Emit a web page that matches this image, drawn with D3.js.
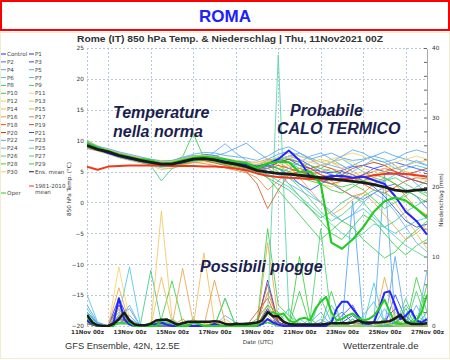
<!DOCTYPE html>
<html><head><meta charset="utf-8">
<script src="https://cdn.jsdelivr.net/npm/d3@7"></script>
<style>body{margin:0;background:#fff}svg{display:block}</style>
</head><body>
<svg id="c" width="450" height="360"></svg>
<script>
// ---------- DATA ----------
const title = "ROMA";
const subtitle = "Rome  (IT)  850 hPa Temp. & Niederschlag | Thu, 11Nov2021 00Z";
const xTickDays = [0,2,4,6,8,10,12,14,16];
const xTickLabels = ["11Nov 00z","13Nov 00z","15Nov 00z","17Nov 00z","19Nov 00z","21Nov 00z","23Nov 00z","25Nov 00z","27Nov 00z"];
const tempTicks = [-20,-15,-10,-5,0,5,10,15,20,25];
const precipTicks = [0,10,20,30,40];
const memberNames = ["P1","P2","P3","P4","P5","P6","P7","P8","P9","P10","P11","P12","P13","P14","P15","P16","P17","P18","P19","P20","P21","P22","P23","P24","P25","P26","P27","P28","P29","P30"];

// 850 hPa temperature, every 12 h from 11Nov 00z (33 values)
const tempMean = [9.2,8.6,8.2,7.6,7.2,6.8,6.5,6.2,6.2,6.6,7.0,7.1,6.9,6.5,6.2,5.8,5.2,4.9,4.7,4.6,4.4,4.2,4.0,3.8,3.6,3.4,3.2,2.9,2.5,2.0,1.8,2.0,2.1];
const tempClim = [5.8,5.3,5.8,5.9,6.0,6.0,6.0,6.0,5.9,5.9,5.9,5.8,5.8,5.7,5.5,5.2,4.7,4.3,4.1,4.0,3.9,3.8,3.7,3.7,3.8,3.9,4.1,4.4,4.6,4.7,4.6,4.4,4.2];
const tempControl = [9.3,8.7,8.0,7.5,7.1,6.9,6.6,6.2,6.3,6.5,7.0,7.3,7.0,6.6,6.4,6.2,5.8,6.2,7.0,8.4,6.8,4.2,4.0,4.3,4.3,4.0,4.2,3.6,3.0,1.0,-1.5,-3.0,-5.2];
const tempOper = [9.6,8.8,8.3,7.8,7.4,7.0,6.8,6.3,6.4,6.8,7.2,7.4,7.2,7.0,6.6,6.4,5.6,6.3,6.6,6.5,4.9,5.0,3.0,-6.5,-7.5,-6.0,-4.0,-1.5,0.2,0.8,0.3,-1.0,-2.5];
const tempMembers = [
 [9.5,8.8,8.0,7.4,7.0,6.9,6.4,6.0,6.5,6.9,7.4,7.5,7.0,6.8,6.4,6.0,5.5,5.8,6.5,7.0,6.0,5.5,5.0,4.8,5.2,5.8,6.0,5.5,5.0,4.6,4.0,3.5,3.0],
 [8.9,8.5,8.3,7.8,7.3,6.6,6.3,6.1,6.0,6.4,6.8,7.3,7.2,6.4,6.0,5.6,5.0,4.5,4.0,4.5,5.0,4.2,3.5,3.0,2.0,1.0,0.5,1.5,2.5,3.0,2.0,1.0,-1.0],
 [9.8,9.0,8.4,7.7,7.1,6.9,6.6,6.4,6.3,6.5,7.2,7.8,7.6,7.0,6.6,6.3,6.0,6.5,7.0,7.5,7.0,6.0,5.0,4.5,4.0,3.8,4.5,5.5,6.0,6.5,6.0,5.5,5.0],
 [9.0,8.7,8.5,8.0,7.5,7.0,6.2,5.8,6.5,7.2,7.6,7.3,7.5,8.0,8.8,9.6,8.2,7.0,7.8,8.3,7.5,7.0,7.5,8.0,7.2,6.8,7.0,7.5,8.2,7.5,7.0,6.5,6.0],
 [9.3,8.4,7.9,7.5,7.4,7.0,6.8,6.5,5.9,6.2,6.9,7.0,8.2,9.5,8.0,6.8,5.8,6.2,6.8,7.5,8.0,7.2,6.5,6.0,5.5,6.0,6.8,7.5,7.0,6.0,4.5,3.0,1.5],
 [9.1,8.6,8.1,7.3,6.9,6.5,6.1,5.6,5.5,6.0,6.6,6.8,6.5,6.1,5.9,5.7,5.5,5.0,4.5,4.0,3.0,1.5,0.0,-2.0,-3.0,-2.0,-1.0,-2.5,-4.0,-5.0,-4.0,-3.0,-2.5],
 [9.6,8.9,8.3,7.9,7.6,7.2,6.7,6.3,6.4,6.8,7.3,7.6,7.3,6.7,6.4,6.1,6.0,6.8,7.2,6.5,5.5,5.0,5.5,6.5,7.0,6.0,5.0,4.0,3.5,4.5,5.5,6.0,5.5],
 [9.4,8.5,8.0,7.6,7.2,6.6,6.0,3.5,5.5,6.2,6.9,7.0,6.7,6.3,6.0,5.6,5.0,4.0,3.0,2.0,0.5,-1.0,-2.5,-1.5,0.0,1.0,0.0,-2.0,-4.0,-3.0,-1.5,-0.5,0.5],
 [10.1,9.0,8.4,7.8,7.3,6.9,6.7,6.5,6.6,7.4,11.2,7.2,6.8,6.6,6.3,5.9,5.5,6.0,5.0,3.0,1.0,-1.0,-3.0,-5.0,-6.0,-4.0,-2.0,-3.0,-5.0,-7.0,-8.5,-7.0,-6.0],
 [9.7,8.8,8.2,7.5,7.0,6.7,6.5,6.3,6.1,6.3,6.8,7.0,6.9,6.6,6.3,6.0,6.0,6.5,7.0,6.5,6.0,5.0,4.0,3.0,2.5,3.0,2.0,0.5,-1.0,0.0,1.5,2.0,1.0],
 [9.0,8.9,8.6,7.9,7.5,7.3,7.0,6.8,6.7,7.0,7.5,7.7,7.4,7.0,6.7,6.3,6.0,6.5,7.5,8.0,7.5,7.0,6.5,7.0,7.5,8.0,7.5,6.5,6.0,6.5,7.0,7.5,7.0],
 [8.8,8.3,7.8,7.2,6.8,6.4,6.0,5.3,5.6,6.0,6.5,6.8,6.5,6.2,5.9,5.7,5.5,5.0,5.5,6.0,5.0,4.0,3.0,2.5,3.5,4.5,5.0,4.0,2.5,1.0,-1.0,-3.0,-4.5],
 [9.2,8.7,8.5,8.1,7.6,7.2,6.9,6.6,6.8,7.1,7.3,7.4,7.1,6.8,6.5,6.3,6.2,6.8,6.0,5.0,4.5,5.0,6.0,6.5,6.0,5.0,4.0,3.0,2.0,0.0,-2.5,-5.0,-7.5],
 [9.4,9.0,8.4,7.4,6.9,6.6,6.4,6.0,5.8,6.1,6.4,6.6,6.4,6.0,5.7,5.4,5.0,4.5,4.0,4.5,5.5,6.5,7.0,6.5,5.5,4.5,4.0,4.5,5.0,5.5,6.0,6.5,6.8],
 [9.9,9.2,8.3,7.7,7.4,7.1,6.8,6.5,6.4,6.7,7.1,7.2,7.0,6.7,6.4,6.1,5.8,6.5,7.0,6.0,4.0,2.0,0.0,-2.0,-1.0,0.5,1.5,0.0,-2.0,-4.0,-6.0,-5.0,-3.5],
 [9.1,8.6,8.0,7.5,7.3,6.9,6.6,6.2,6.3,6.8,7.4,7.6,7.3,7.0,6.8,6.6,6.5,7.0,6.5,5.5,5.0,4.5,5.0,5.5,5.0,4.0,3.5,4.0,5.0,5.5,5.0,4.5,4.0],
 [8.7,8.4,8.1,7.6,7.0,6.5,6.1,5.9,6.0,6.2,6.5,6.3,6.0,5.6,5.2,4.8,4.0,2.0,3.5,5.0,5.5,5.0,4.5,3.5,2.0,1.0,1.5,3.0,4.0,3.0,1.0,-1.0,-2.0],
 [9.3,8.8,8.2,7.7,7.2,6.8,6.5,6.1,6.2,6.6,7.0,6.8,6.4,6.0,5.5,5.0,3.0,-1.0,2.0,4.5,5.0,4.5,3.5,3.0,3.5,4.0,3.0,2.0,1.5,2.5,3.5,4.0,3.8],
 [9.0,8.5,8.0,7.5,7.1,6.7,6.4,6.2,6.3,6.7,7.1,7.3,7.0,6.6,6.2,5.9,5.5,5.5,6.0,5.5,5.0,5.5,6.0,5.5,4.5,4.0,4.5,5.0,5.5,5.0,4.0,3.5,3.0],
 [9.5,8.9,8.3,7.6,7.0,6.6,6.3,6.0,6.1,6.5,6.9,7.0,6.8,6.4,6.0,5.6,5.0,5.5,6.5,7.0,6.5,5.5,4.5,4.0,4.5,5.5,6.0,6.5,6.0,5.0,4.5,5.0,5.5],
 [9.2,8.6,8.1,7.5,7.1,6.8,6.5,6.3,6.4,6.8,7.2,7.4,7.2,6.9,6.5,6.1,5.5,6.0,5.5,4.5,3.0,2.0,3.0,4.0,5.0,4.5,3.5,2.5,1.0,-1.0,-3.0,-4.0,-3.5],
 [9.6,9.1,8.7,8.2,7.8,7.4,7.0,6.7,6.8,7.3,7.8,8.1,8.0,7.6,7.4,7.2,6.8,7.5,8.5,9.0,8.0,7.0,6.0,6.5,7.5,8.5,8.0,7.0,6.5,7.0,8.0,8.5,8.0],
 [8.9,8.4,7.9,7.3,6.9,6.5,6.2,5.9,6.0,6.5,7.0,7.3,7.1,6.7,6.3,6.2,6.0,5.0,4.5,5.5,6.5,7.5,8.0,7.0,6.0,5.0,6.0,7.0,6.5,5.5,6.0,6.8,6.0],
 [9.3,8.7,8.2,7.6,7.2,6.9,6.6,6.4,6.5,7.0,7.4,7.6,7.2,6.7,6.2,5.6,5.0,5.5,4.5,3.0,2.0,1.0,0.0,-1.5,-3.0,-2.0,0.0,1.5,0.5,-1.5,-4.0,-6.5,-8.0],
 [9.8,9.0,8.3,7.7,7.2,6.8,6.4,6.0,6.1,6.6,7.0,7.1,6.9,6.5,6.1,5.8,5.5,4.5,3.5,2.5,1.0,-0.5,-2.0,-3.5,-5.0,-6.0,-5.0,-3.5,-4.0,-5.5,-7.0,-8.0,-9.0],
 [9.4,8.7,8.3,7.8,7.3,6.9,6.6,6.3,6.4,6.9,7.3,7.4,7.1,6.8,6.5,6.3,6.0,6.5,5.5,4.0,2.5,0.5,-1.5,-3.0,-2.0,-0.5,1.0,2.0,1.5,0.5,1.0,2.5,3.5],
 [9.0,8.5,8.1,7.6,7.2,6.9,6.7,6.5,6.6,7.0,7.5,7.7,7.4,7.0,6.6,6.2,5.8,6.2,6.8,7.2,6.5,6.0,5.5,5.0,4.5,4.0,3.5,3.0,3.5,4.0,3.0,2.0,1.5],
 [9.6,8.9,8.4,7.8,7.3,6.8,6.3,5.8,5.9,6.3,6.7,6.9,6.6,6.2,5.8,5.4,5.0,4.0,2.0,0.0,-2.0,-4.0,-6.0,-4.5,-3.0,-4.0,-6.0,-7.5,-9.0,-8.0,-6.0,-4.5,-3.0],
 [9.1,8.6,8.2,7.7,7.3,6.9,6.6,6.4,6.5,6.9,7.3,7.5,7.3,6.9,6.5,6.0,5.5,6.0,5.5,5.0,4.0,3.5,3.0,2.0,1.5,2.5,3.5,4.5,4.0,3.0,2.0,1.0,0.0],
 [9.2,8.8,8.4,7.9,7.5,7.1,6.8,6.5,6.6,7.0,7.4,7.6,7.4,7.1,6.8,6.4,6.0,6.5,7.0,7.5,7.0,6.5,6.0,6.5,7.0,6.5,5.5,5.0,5.5,6.0,5.0,4.0,3.5]
];

// Precipitation (mm), mean / control / oper every 6 h (65 values)
const precipMean = [1.6,0.5,0.1,0.0,0.0,0.3,1.0,1.9,0.8,0.2,0.1,0.1,0.3,0.8,0.9,0.9,0.6,0.2,0.4,0.6,0.6,0.6,0.6,0.6,0.7,0.6,0.3,0.2,0.3,0.3,0.3,0.4,0.5,0.8,2.0,1.4,1.4,0.6,0.3,0.2,0.2,0.2,0.2,0.2,0.2,0.3,0.4,0.4,0.4,0.4,0.5,0.8,0.5,0.5,0.5,0.5,0.6,0.7,1.1,1.6,0.6,0.3,0.3,0.3,0.4];
const precipControl = [0.8,0.2,0,0,0,0.5,4.0,1.0,0.2,0,0,0,0,0.3,0.5,0.2,0,0,0,0,0,0,0,0,0.3,0,0,0,0,0,0,0,0,0.3,1.0,0.5,0.2,0,0,0,0,0,0,0,0,0,0.5,2.5,3.5,3.5,2.5,1.5,0.5,0.3,0.5,2.5,4.8,5.0,3.0,1.0,1.5,2.3,0.8,0.5,1.0];
const precipOper = [1.5,0.3,0,0,0,0,1.0,1.8,0.5,0,0,0,0,0,0.8,1.0,0.5,0,0,0,0.5,0.3,0,0,0,0,0,0,0,0,0,0,0,1.0,1.8,2.0,1.6,1.8,0.8,0.5,1.0,1.2,0.8,2.5,3.5,4.2,2.0,0.8,1.0,1.5,1.8,1.2,0.8,1.0,1.5,2.5,3.8,2.0,0.5,0.3,0.4,0.5,0.8,2.0,4.5];
// Members every 12 h (33 values)
const precipMembers = [
 [1.0,0,0,4.0,0.5,0,0,0.2,0,0,0, 0,0,0,0,0,0.3,6.6,0.5,0,0,0, 0,0,0.5,1.5,0.3,0,0.8,2.5,0.5,0,0.3],
 [0.5,0,0,0.8,0.3,0,0,0.5,0.2,0,0, 0,0,0,0.2,0,0,0.5,0.3,0,0,0, 0,0.8,2.0,0.5,0,0,1.0,0.4,0,0.6,0],
 [2.0,0.3,0,1.2,0.5,0,0,0,0.3,0,0, 0,0.4,0,0,0,0,1.0,0.5,0,0,0, 0.5,0,0,0.5,0.3,0,0,4.5,1.0,0,0.5],
 [3.0,0.5,0,1.5,2.5,0,0,0.8,0,0,0.3, 0,0,0,0,0.5,0,1.5,0,0,0,0, 0,0,0,18.0,0.5,0,0,1.0,0,0,2.0],
 [1.5,0,0,2.0,1.0,0,0,0.3,0,0.2,0, 0,0,1.5,0.5,0,0,1.0,0.5,0,0,0, 0,0,0,0,0,0.5,22.0,1.0,0,0.5,0],
 [4.5,0.5,0,1.5,8.5,0.3,0,0.5,0,0,0.5, 0,0,0,0.3,0,0,2.0,0.5,0,0,0, 0,0,0,1.0,0,6.2,0.5,0,0,0.5,1.0],
 [2.5,0.3,0,2.5,1.0,0,0,0.5,0.5,0,0, 0,0,0,0,0,0.2,0.5,0,0,0,0, 1.0,0,0,0,1.5,3.5,0.5,0,1.0,0,0.5],
 [1.5,0,0,0.5,0.5,0,8.0,0.5,0,0,0, 0,0,0,0,0,0,0.5,0.5,2.5,0,0, 4.0,0.5,0,0,1.0,0,0.3,0,3.0,1.0,0],
 [1.0,0,0,0.3,0.3,0,0.5,1.0,6.5,0.5,0, 0.3,0,4.0,0,0,0.5,14.0,3.0,1.5,0,0, 0,0,0,1.0,0,0,0.5,0,0,7.0,2.0],
 [0.8,0,0,0.5,0.3,0,0,0.3,0.5,0,1.0, 0,0,0,0.5,0,0,1.0,0,0,10.0,1.0, 0,0,0,0,0,0,0,0.5,0,1.5,0.5],
 [1.0,0,0,8.5,1.0,0,0,0.5,0,0,0, 0,0,0,0,0,0,1.5,0,0,0,0, 0,0,0,0,0,0,1.0,0,0,0,0],
 [0.5,0,0,1.0,0.5,0,0,16.5,1.0,0,0, 0.5,0,0,0,0,0,2.0,0.5,0,0,0, 0,0,0,0,0,0,0,0.5,0,0,0],
 [0.3,0,0,0.5,0.3,0,0,7.0,0.5,0,0, 10.5,0.5,0,0,0,0,0.8,0,0,0,0, 0,0,0,0.5,0,0,0,2.0,0.5,0,0],
 [0.5,0,0,2.0,0.3,0,0,1.0,0.3,0,0, 0,0,1.0,0,0,0,0.5,0,0,0,0, 0,0,0,0,0,0,0,0,1.5,0,0],
 [1.0,0,0,5.5,0.5,0,0,0.5,0,8.3,0.5, 0,0.5,0,0,0,0,12.0,1.0,0,0,0, 0,0,0,0,0,0,7.0,1.0,0,0,0.3],
 [0.8,0,0,3.0,0.5,0,0,0.3,0,0,0, 0,6.6,0.5,0,0,0,3.0,0.5,0,0,0, 0,0,0,0,1.0,0,0,0,0,0,0],
 [0.5,0,0,1.5,0.5,0,0,0.5,0,1.0,0, 0,0.5,0,0,0,0.3,4.8,1.0,0,0,0, 0,0,0,0,0,0,0.5,0,0,0,0],
 [0.5,0,0,2.5,0.3,0,0,0,0,0,0, 0,0,0,0,0,2.0,4.0,0.5,0,0,0, 0,0,0,0,0,0,0,0,0,0,0],
 [0.3,0,0,0.5,0.3,0,0,0,0,0.5,0, 0,0,0,0,0,0.5,6.0,0.5,0,0,0, 0,0,0,0,0,0,0,0,0,0,0],
 [0.5,0,0,1.0,0.5,0,0,0.3,0,0,0, 0,0,0,0.5,0,0,2.5,0,0,0,0, 0,0,0,0,0,0,0,0,0,0,0],
 [0.8,0,0,3.0,0.5,0,0,0,0,0,0, 0,0,0,0,0,0,2.5,0.5,0,0,0, 0,0,1.5,3.0,0,0,0,0.5,1.5,0,0],
 [2.0,0.5,0,1.0,1.5,0,0,0.3,0,0,0, 0,0,0,0,0,0,1.0,0,0,0,0.5, 2.0,0,0,0,0,0,0,10.0,0.5,0,1.0],
 [1.5,0,0,0.8,3.0,0,0,0.5,0,0,0, 0,0,0,0,0,0,0.5,0,0,1.0,0, 0,0,0,0,0,0,2.5,0,0,3.0,0],
 [1.0,0,0,1.5,1.0,0,0,0.3,0,0,0, 0,0,0,0,0,0,1.0,0,0,0,0, 0,3.0,0.5,0,0,0,0,0,0,0,8.0],
 [2.0,0,0,0.5,0.5,0,0,0.5,1.0,0,0, 0,0,0,0,0,0,2.0,39.0,1.5,0.5,0, 0,0,0,0,0,0,0,0,0,0,0.5],
 [1.0,0,0,0.3,0.5,0,0,0.5,0,0,0, 0,0,4.0,0,0,0,1.0,0,0,0,1.0, 14.0,1.0,0,0,0,0,0,0,4.0,0,0],
 [0.5,0,0,0.3,0.3,0,0,0.3,0,0,0, 0,0,0,0,0.5,0,0.5,0,0,0,0, 0,0,0,0,0,0,1.0,0,0,5.0,0.5],
 [1.5,0,0,0.5,0.5,0,0,0.5,0.3,0,0, 0,0,0,0,0,1.0,3.0,2.0,0,0,0, 0,5.0,0,0,0,0,0,0,0,0,6.0],
 [1.0,0,0,0.5,0.3,0,0,0,0.5,0,0, 0,0.3,0,0,0,0,0.5,0,0,5.0,0, 0,0,0,0,0,0,0,0,2.5,0,0],
 [0.5,0,0,2.5,0.5,0,0,0.5,0,0,0, 0,0,0,0,0,0,1.0,0,0,0,0, 0,0,0,0,0,0,0.5,0,0,0,0]
];

// ---------- STYLE ----------
const memberColors = ["#2b2bee","#3d6bff","#2e4cff","#4fa3f7","#5aaaf5","#4cc7e6","#45c4c8","#3cc88a","#3ccf4a","#3ccf3c",
 "#f2d36b","#f0c860","#efbd55","#efbd55","#e9a94c","#e89c44","#e08a3a","#d8582a","#c8502a","#c0402a",
 "#3050f5","#5aa8f0","#62b0f2","#6ab4f0","#55d4a8","#55d07a","#4ccf6a","#3ccc44","#3ccc3c","#f2d36b"];
const colControl = "#2424ff", colOper = "#22cc22", colMean = "#1a1a1a", colClim = "#ee3a1a", colMeanLegend = "#1c1c5a";
const FONT = "'DejaVu Sans', Verdana, sans-serif";
const FONT2 = "'Liberation Sans', Arial, sans-serif";

// ---------- CHART ----------
const svg = d3.select('#c');
const X0 = 87, X1 = 427, Y0 = 48, Y1 = 326;
const x = d3.scaleLinear().domain([0,16]).range([X0,X1]);
const yT = d3.scaleLinear().domain([-20,25]).range([Y1,Y0]);
const yP = d3.scaleLinear().domain([0,40]).range([Y1,Y0]);
const t12 = d3.range(0, 16.001, 0.5);
const t6 = d3.range(0, 16.001, 0.25);

// title box
svg.append('rect').attr('x',1).attr('y',1).attr('width',448).attr('height',29)
  .attr('fill','#fff').attr('stroke','#ff0000').attr('stroke-width',2);
svg.append('text').attr('x',225).attr('y',22).attr('text-anchor','middle')
  .attr('font-family',FONT2).attr('font-weight','bold').attr('font-size',17).attr('fill','#2020ff').text(title);
// chart frame
svg.append('rect').attr('x',0.5).attr('y',32.5).attr('width',449).attr('height',326)
  .attr('fill','none').attr('stroke','#e6d8a0').attr('stroke-dasharray','1,1');
svg.append('text').attr('x',230).attr('y',42).attr('text-anchor','middle')
  .attr('font-family',FONT2).attr('font-weight','bold').attr('font-size',9.8)
  .attr('textLength',306).attr('lengthAdjust','spacingAndGlyphs').attr('fill','#333').text(subtitle);

// grid
const grid = svg.append('g').attr('stroke','#b9c7dc').attr('stroke-width',1).attr('stroke-dasharray','2,2');
tempTicks.forEach(v => grid.append('line').attr('x1',X0).attr('x2',X1).attr('y1',Math.round(yT(v))+0.5).attr('y2',Math.round(yT(v))+0.5));
[0,1,3,5,7,9,11,13,15].forEach(d => grid.append('line').attr('x1',Math.round(x(d))+0.5).attr('x2',Math.round(x(d))+0.5).attr('y1',Y0).attr('y2',Y1));

// axes
const gL = svg.append('g').attr('transform',`translate(${X0},0)`)
  .call(d3.axisLeft(yT).tickValues(tempTicks).tickSize(0).tickPadding(3));
gL.select('.domain').remove();
gL.selectAll('text').attr('font-family',FONT).attr('font-size',5.8).attr('fill','#333');

const gR = svg.append('g').attr('transform',`translate(${X1},0)`)
  .call(d3.axisRight(yP).tickValues(precipTicks).tickSize(0).tickPadding(5));
gR.select('.domain').attr('stroke','#555').attr('stroke-dasharray','1,1');
gR.selectAll('text').attr('font-family',FONT).attr('font-size',5.8).attr('fill','#333');
const gRm = svg.append('g').attr('transform',`translate(${X1},0)`)
  .call(d3.axisLeft(yP).tickValues(d3.range(0,41,2)).tickSize(3).tickFormat(''));
gRm.select('.domain').remove();
gRm.selectAll('line').attr('stroke','#666');

const gB = svg.append('g').attr('transform',`translate(0,${Y1})`)
  .call(d3.axisBottom(x).tickValues(xTickDays).tickSize(0).tickPadding(4.5).tickFormat((d,i)=>xTickLabels[i]));
gB.select('.domain').remove();
gB.selectAll('text').attr('font-family',FONT).attr('font-weight','bold').attr('font-size',5.6).attr('fill','#333');

// axis titles
svg.append('text').attr('transform','translate(71,189) rotate(-90)').attr('text-anchor','middle')
  .attr('font-family',FONT).attr('font-size',5.6).attr('fill','#333').text('850 hPa Temp. (°C)');
svg.append('text').attr('transform','translate(443,200) rotate(-90)').attr('text-anchor','middle')
  .attr('font-family',FONT).attr('font-size',5.6).attr('fill','#333').text('Niederschlag (mm)');
svg.append('text').attr('x',258).attr('y',344).attr('text-anchor','middle')
  .attr('font-family',FONT).attr('font-size',5.6).attr('fill','#333').text('Date (UTC)');
svg.append('text').attr('x',65).attr('y',349)
  .attr('font-family',FONT2).attr('font-size',9.3).attr('fill','#333').text('GFS Ensemble, 42N, 12.5E');
svg.append('text').attr('x',343).attr('y',349)
  .attr('font-family',FONT2).attr('font-size',9.6).attr('fill','#333').text('Wetterzentrale.de');

// series
svg.append('clipPath').attr('id','clip').append('rect').attr('x',X0).attr('y',Y0-1).attr('width',X1-X0+1).attr('height',Y1-Y0+2);
const plot = svg.append('g').attr('clip-path','url(#clip)');
function draw(times, vals, yScale, color, width, op){
  const pts = vals.map((v,i)=>[times[i], v]).filter(p=>p[0]!==undefined);
  plot.append('path').datum(pts)
    .attr('d', d3.line().x(d=>x(d[0])).y(d=>yScale(d[1])))
    .attr('fill','none').attr('stroke',color).attr('stroke-width',width)
    .attr('stroke-linejoin','round').attr('stroke-opacity',op||1);
}
precipMembers.forEach((s,i)=>draw(t12, s, yP, memberColors[i], 1, 0.85));
tempMembers.forEach((s,i)=>draw(t12, s, yT, memberColors[i], 1, 0.85));
draw(t12, tempClim, yT, colClim, 2);
draw(t6, precipControl, yP, colControl, 2);
draw(t6, precipOper, yP, colOper, 2);
draw(t12, tempControl, yT, colControl, 2);
draw(t12, tempOper, yT, colOper, 2.2);
draw(t6, precipMean, yP, colMean, 2.5);
draw(t12, tempMean, yT, colMean, 2.8);

// legend
const leg = svg.append('g').attr('font-family',FONT).attr('font-size',5.6).attr('fill','#444');
const col1 = [["Control",colControl]].concat(memberNames.filter((n,i)=>i%2===1).map(n=>[n, memberColors[memberNames.indexOf(n)]]));
const col2 = memberNames.filter((n,i)=>i%2===0).map(n=>[n, memberColors[memberNames.indexOf(n)]]).concat([["Ens. mean",colMeanLegend]]);
function legRow(xl, y, label, color){
  leg.append('line').attr('x1',xl).attr('x2',xl+5).attr('y1',y).attr('y2',y).attr('stroke',color).attr('stroke-width',1);
  leg.append('text').attr('x',xl+6).attr('y',y+2).text(label);
}
col1.forEach((r,i)=>legRow(1, 54+i*7.85, r[0], r[1]));
col2.forEach((r,i)=>legRow(29, 54+i*7.85, r[0], r[1]));
legRow(1, 193, "Oper", colOper);
legRow(29, 186, "1981-2010", colClim);
leg.append('text').attr('x',35).attr('y',194).text('mean');

// annotations
const ann = svg.append('g').attr('font-family',FONT2).attr('font-weight','bold').attr('font-style','italic')
  .attr('font-size',16).attr('fill','#1b1f4f');
ann.append('text').attr('x',113).attr('y',118).text('Temperature');
ann.append('text').attr('x',113).attr('y',137).text('nella norma');
ann.append('text').attr('x',290).attr('y',116).text('Probabile');
ann.append('text').attr('x',277).attr('y',134).text('CALO TERMICO');
ann.append('text').attr('x',200).attr('y',272).text('Possibili piogge');
</script>
</body></html>
